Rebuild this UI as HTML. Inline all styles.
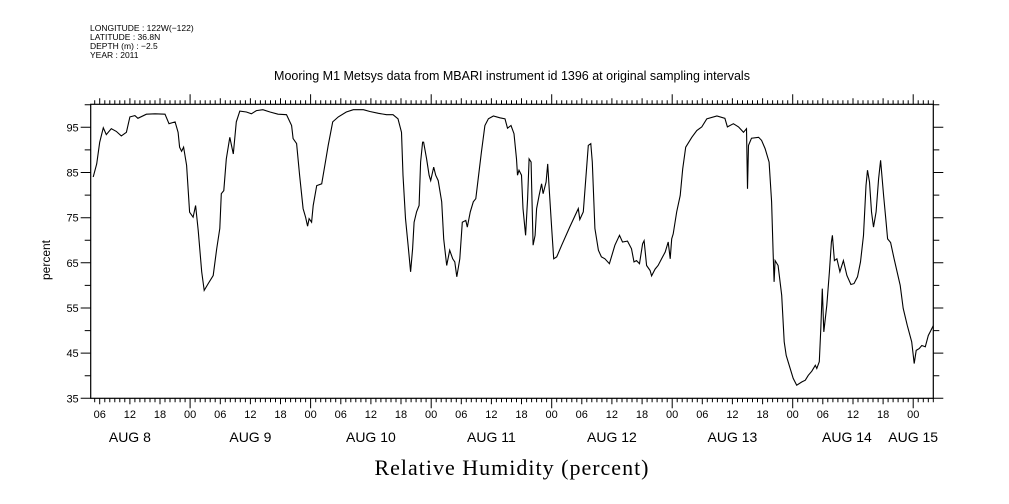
<!DOCTYPE html>
<html><head><meta charset="utf-8"><style>
html,body{margin:0;padding:0;background:#fff;}
svg{display:block;font-family:"Liberation Sans",sans-serif;}
</style></head><body>
<svg id="chart" width="1009" height="504" viewBox="0 0 1009 504" xmlns="http://www.w3.org/2000/svg">
<rect x="0" y="0" width="1009" height="504" fill="#fff"/>
<g font-size="8.5" fill="#000">
<text x="90" y="31">LONGITUDE : 122W(−122)</text>
<text x="90" y="40">LATITUDE : 36.8N</text>
<text x="90" y="49">DEPTH (m) : −2.5</text>
<text x="90" y="58">YEAR : 2011</text>
</g>
<text x="512" y="80" text-anchor="middle" font-size="12.5">Mooring M1 Metsys data from MBARI instrument id 1396 at original sampling intervals</text>
<g id="axes"></g>
<path id="series" fill="none" stroke="#000" stroke-width="1.1"/>
<text x="512" y="475" text-anchor="middle" font-family="'Liberation Serif',serif" font-size="22" letter-spacing="1">Relative Humidity (percent)</text>
<text transform="translate(50,260) rotate(-90)" text-anchor="middle" font-size="12">percent</text>
</svg>
<script>
// hours since Aug 9 00:00 (2011)
const hours = [-19.3,-18.6,-18.0,-17.3,-16.7,-15.7,-14.7,-13.7,-12.7,-12.0,-11.0,-10.4,-8.7,-7.0,-5.0,-4.2,-3.0,-2.4,-2.1,-1.7,-1.3,-0.7,-0.1,0.6,1.1,1.6,2.3,2.8,3.6,4.6,5.3,5.9,6.2,6.7,7.2,7.9,8.6,9.2,9.9,11.2,12.2,13.2,14.5,15.9,17.5,19.2,20.2,20.5,21.2,21.8,22.5,23.0,23.4,23.7,24.2,24.5,25.2,26.2,27.0,27.5,28.4,29.5,31.1,32.5,34.5,35.8,37.5,39.1,40.4,41.4,42.1,42.4,42.9,43.4,43.9,44.3,44.6,45.1,45.6,45.9,46.3,46.5,47.1,47.6,47.9,48.5,48.9,49.4,50.1,50.5,51.1,51.7,52.3,52.7,53.1,53.7,54.2,54.9,55.2,55.8,56.4,56.9,57.4,58.0,58.7,59.4,60.4,61.7,62.7,63.2,63.9,64.5,65.0,65.2,65.5,66.0,66.3,66.8,67.2,67.5,67.9,68.0,68.3,68.7,69.0,69.5,70.0,70.3,70.9,71.2,71.5,72.0,72.4,73.0,74.0,75.6,77.3,77.6,78.3,79.3,79.8,80.1,80.6,81.3,81.9,82.6,83.5,84.6,85.5,86.1,87.1,87.9,88.4,88.9,89.5,90.1,90.4,90.9,91.6,91.9,92.6,93.2,93.9,94.6,95.2,95.6,95.9,96.2,96.9,97.6,98.1,98.7,99.9,100.9,101.9,102.9,104.9,106.5,107.0,108.2,109.2,110.2,110.8,111.0,111.2,111.8,113.2,113.8,114.5,115.3,115.8,116.1,116.3,116.5,117.1,117.8,118.3,118.7,119.3,120.1,120.8,121.8,122.5,123.1,123.8,124.5,124.8,125.3,125.6,125.9,126.2,126.8,127.3,127.7,127.9,128.3,128.8,129.4,130.1,130.8,131.6,132.2,132.9,133.5,134.1,134.6,134.9,135.3,135.7,136.1,136.6,137.1,137.5,138.1,138.6,138.9,139.5,140.2,141.4,142.0,142.8,143.7,144.2,144.6,145.2,145.7,146.4,147.0,147.5,148.0];
const humidity = [84.0,86.9,91.7,94.9,93.4,94.7,94.1,93.1,93.9,97.3,97.6,97.0,97.9,98.0,97.9,95.8,96.2,93.9,90.6,89.7,90.6,86.6,76.2,75.1,77.7,72.2,63.0,58.9,60.4,62.2,68.1,72.6,80.3,81.0,88.0,92.8,89.1,96.2,98.6,98.4,98.0,98.7,98.9,98.4,97.9,97.8,95.4,92.5,91.4,84.4,77.0,75.1,73.1,74.8,74.0,77.7,82.1,82.5,87.7,91.0,96.2,97.3,98.4,98.9,98.9,98.5,98.1,97.8,97.8,96.9,93.9,84.4,74.8,68.9,63.0,68.1,74.0,76.3,77.7,87.3,91.7,91.7,88.0,84.4,83.2,86.2,84.4,83.2,78.5,70.3,64.4,67.8,65.9,65.2,61.9,65.9,74.0,74.4,72.9,76.3,78.5,79.2,84.0,89.5,95.4,96.9,97.5,97.1,96.9,94.8,95.4,93.6,88.0,84.4,85.5,84.4,77.0,71.1,79.2,88.0,87.3,82.5,68.9,71.1,77.0,79.9,82.5,80.3,82.9,86.9,81.4,72.6,65.9,66.3,68.9,72.9,77.0,74.6,76.3,91.0,91.4,87.3,72.6,67.8,66.3,65.9,64.8,68.9,71.1,69.6,69.8,68.1,65.2,65.5,64.8,69.2,69.9,64.4,63.3,62.1,63.6,64.4,65.9,67.4,69.6,65.9,70.3,71.4,76.3,79.9,85.8,90.6,92.8,94.3,95.1,96.9,97.5,97.0,95.1,95.8,95.1,93.9,94.7,81.4,91.0,92.6,92.8,92.1,90.3,87.3,78.5,67.4,60.8,65.5,64.4,57.8,47.5,44.5,42.3,39.4,37.9,38.6,39.0,40.1,41.0,42.3,41.6,43.1,50.4,59.3,49.7,55.6,63.0,69.6,71.1,65.5,65.9,63.0,65.5,62.2,60.2,60.4,61.9,65.2,71.1,82.1,85.5,82.9,76.3,72.9,76.3,83.6,87.7,79.9,74.0,70.3,69.5,65.9,60.0,54.9,51.2,47.5,42.7,45.6,46.0,46.7,46.4,48.9,50.0,51.1];
const yTickLabels = ["95","85","75","65","55","45","35"];
const hourLabels = ["06","12","18","00"];
const dateLabels = ["AUG  8","AUG  9","AUG 10","AUG 11","AUG 12","AUG 13","AUG 14","AUG 15"];

const L=90.7,R=933.3,T=104.3,B=398.3;
const tMin=-19.8,tMax=148.0,vMin=35,vMax=100.1;
const X=t=>L+(t-tMin)/(tMax-tMin)*(R-L);
const Y=v=>B-(v-vMin)/(vMax-vMin)*(B-T);
const NS="http://www.w3.org/2000/svg";
const axes=document.getElementById('axes');
function mk(tag,attrs){const e=document.createElementNS(NS,tag);for(const k in attrs)e.setAttribute(k,attrs[k]);axes.appendChild(e);return e;}

const frame=mk('rect',{x:L,y:T,width:R-L,height:B-T,fill:'none',stroke:'#000','stroke-width':1.2});



let d='';
for(let h=Math.ceil(tMin);h<=tMax;h++){
  const x=X(h).toFixed(1);
  const len=(h%24===0)?10:(h%6===0?6:4);
  d+=`M${x},${B}v${len}M${x},${T}v${-len}`;
}
for(let v=35;v<=100;v+=5){
  const y=Y(v).toFixed(1);
  const len=(v%10===5)?10:6;
  d+=`M${L},${y}h${-len}M${R},${y}h${len}`;
}
const ticks=mk('path',{d:d,stroke:'#000','stroke-width':1,fill:'none'});



yTickLabels.forEach(s=>{
  const t=mk('text',{x:L-12,y:Y(+s)+4,'text-anchor':'end','font-size':11});
  t.textContent=s;
  
  
});
let k=0;
for(let h=-18;h<=tMax;h+=6){
  const lab=hourLabels[k%4];k++;
  const t=mk('text',{x:X(h),y:418,'text-anchor':'middle','font-size':11});
  t.textContent=lab;
  
  
}
dateLabels.forEach((s,i)=>{
  let h=i*24-12; if(i===dateLabels.length-1) h=i*24-24+24; 
  if(i===dateLabels.length-1) h=144;
  const t=mk('text',{x:X(h)-(i===6?6:0),y:442,'text-anchor':'middle','font-size':14});
  t.textContent=s;
  t.setAttribute('white-space','pre');
  t.setAttribute('xml:space','preserve');
  
  
});

document.getElementById('series').setAttribute('d',hours.map((h,i)=>(i?'L':'M')+X(h).toFixed(1)+','+Y(humidity[i]).toFixed(1)).join(''));
</script>
</body></html>
